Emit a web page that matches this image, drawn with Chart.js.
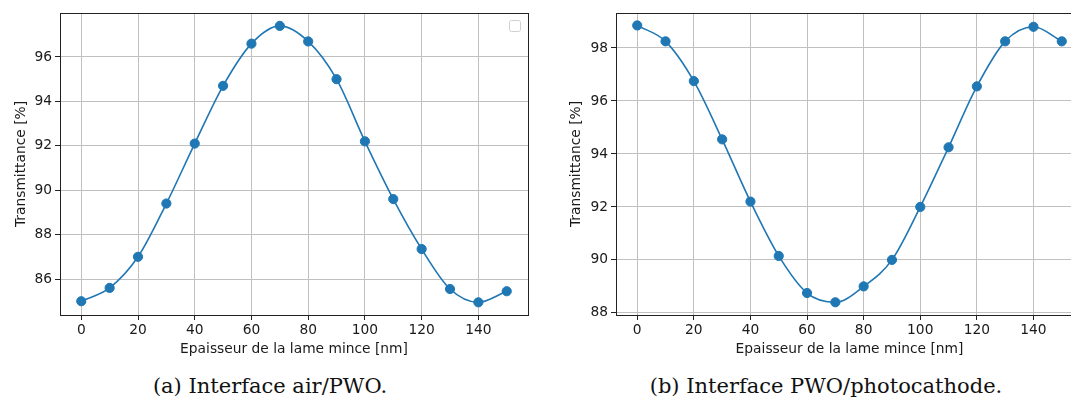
<!DOCTYPE html>
<html>
<head>
<meta charset="utf-8">
<script src="https://cdn.jsdelivr.net/npm/chart.js@4.4.1/dist/chart.umd.min.js"></script>
<style>
  html, body { margin: 0; padding: 0; background: #fff; overflow: hidden; width: 1071px; height: 405px; }
  #wrapA { position: absolute; left: 0; top: 0; width: 540px; height: 360px; }
  #wrapB { position: absolute; left: 555px; top: 0; width: 540px; height: 360px; }
  .caption { position: absolute; top: 374px; font-family: "DejaVu Serif", serif; font-size: 21px; color: #111; white-space: nowrap; transform: translateX(-50%); }
</style>
</head>
<body>
<div id="wrapA"><canvas id="chartA" width="540" height="360"></canvas></div>
<div id="wrapB"><canvas id="chartB" width="540" height="360"></canvas></div>
<div class="caption" style="left:270px">(a) Interface air/PWO.</div>
<div class="caption" style="left:826px">(b) Interface PWO/photocathode.</div>
<script>
// epaisseurs (nm)
const thickness = [0, 10, 20, 30, 40, 50, 60, 70, 80, 90, 100, 110, 120, 130, 140, 150];
// transmittance (%) - interface air/PWO
const transAir = [85.0, 85.6, 87.0, 89.4, 92.1, 94.7, 96.6, 97.4, 96.7, 95.0, 92.2, 89.6, 87.35, 85.55, 84.95, 85.45];
// transmittance (%) - interface PWO/photocathode
const transPhoto = [98.85, 98.25, 96.75, 94.55, 92.2, 90.15, 88.75, 88.4, 89.0, 90.0, 92.0, 94.25, 96.55, 98.25, 98.8, 98.25];

const xTicks = [0, 20, 40, 60, 80, 100, 120, 140];
const yTicksAir = [86, 88, 90, 92, 94, 96];
const yTicksPhoto = [88, 90, 92, 94, 96, 98];

const blue = '#1f77b4';

Chart.defaults.font.family = 'DejaVu Sans';
Chart.defaults.font.size = 13.8;
Chart.defaults.color = '#1a1a1a';

// cadre + legende vide (matplotlib)
const framePlugin = {
  id: 'frame',
  afterDraw(chart, args, opts) {
    const { ctx, chartArea: a } = chart;
    ctx.save();
    ctx.strokeStyle = '#222';
    ctx.lineWidth = 1;
    ctx.strokeRect(Math.round(a.left) + 0.5, Math.round(a.top) + 0.5,
      Math.round(a.right - a.left), Math.round(a.bottom - a.top));
    if (opts.emptyLegend) {
      ctx.strokeStyle = '#d0d0d0';
      ctx.beginPath();
      ctx.roundRect(a.right - 18.5, a.top + 7.5, 11, 11, 2);
      ctx.stroke();
    }
    ctx.restore();
  }
};

function makeChart(id, values, yTicks, yMin, yMax, yWidth, emptyLegend) {
  const pts = thickness.map((x, i) => ({ x: x, y: values[i] }));
  return new Chart(document.getElementById(id), {
    type: 'scatter',
    data: {
      datasets: [
        {
          data: pts,
          showLine: true,
          borderColor: blue,
          borderWidth: 1.6,
          pointRadius: 0,
          cubicInterpolationMode: 'monotone',
          order: 2
        },
        {
          data: pts,
          showLine: false,
          backgroundColor: blue,
          borderColor: blue,
          pointRadius: 4.6,
          order: 1
        }
      ]
    },
    options: {
      responsive: false,
      animation: false,
      layout: { padding: { top: 13, right: 12, left: 0, bottom: 0 } },
      plugins: {
        legend: { display: false },
        tooltip: { enabled: false },
        frame: { emptyLegend: emptyLegend }
      },
      scales: {
        x: {
          type: 'linear',
          min: -7.5,
          max: 157.5,
          afterFit: (s) => { s.height = 45; },
          afterBuildTicks: (s) => { s.ticks = xTicks.map(v => ({ value: v })); },
          grid: { color: '#c0c0c0', lineWidth: 1, tickColor: '#222', tickLength: 5 },
          border: { display: true, color: '#222' },
          ticks: { padding: 2, maxRotation: 0 },
          title: { display: true, text: 'Epaisseur de la lame mince [nm]', padding: { top: 0, bottom: 2 } }
        },
        y: {
          type: 'linear',
          min: yMin,
          max: yMax,
          afterFit: (s) => { s.width = yWidth; },
          afterBuildTicks: (s) => { s.ticks = yTicks.map(v => ({ value: v })); },
          grid: { color: '#c0c0c0', lineWidth: 1, tickColor: '#222', tickLength: 5 },
          border: { display: true, color: '#222' },
          ticks: { padding: 3 },
          title: { display: true, text: 'Transmittance [%]', padding: { top: 13, bottom: 0 } }
        }
      }
    },
    plugins: [framePlugin]
  });
}

makeChart('chartA', transAir, yTicksAir, 84.38, 97.98, 60, true);
makeChart('chartB', transPhoto, yTicksPhoto, 87.92, 99.32, 61, false);
</script>
</body>
</html>
